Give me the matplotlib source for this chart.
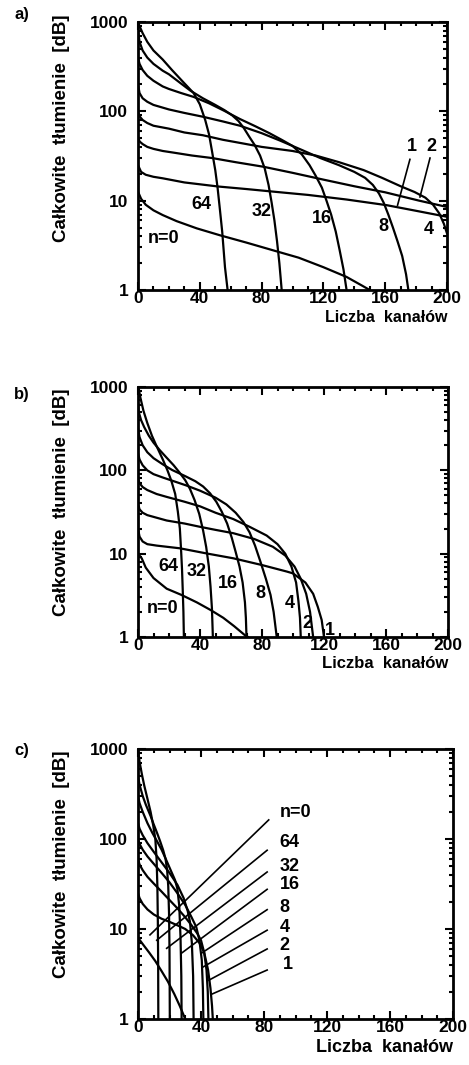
import matplotlib
matplotlib.use("Agg")
import matplotlib.pyplot as plt
from matplotlib.ticker import FixedLocator, NullFormatter, MultipleLocator

FONT = ["Liberation Sans Narrow", "Liberation Sans", "DejaVu Sans"]
plt.rcParams["font.family"] = FONT
plt.rcParams["font.weight"] = "bold"

# ---- axis settings shared by all three panels ----
X_TICKS = [0, 40, 80, 120, 160, 200]
X_TICK_LABELS = ["0", "40", "80", "120", "160", "200"]
Y_TICKS = [1, 10, 100, 1000]
Y_TICK_LABELS = ["1", "10", "100", "1000"]
X_LABEL = "Liczba  kanałów"
Y_LABEL = "Całkowite  tłumienie  [dB]"
PANEL_TAGS = ["a)", "b)", "c)"]

# ---- panel a: (channels, total attenuation dB) ----
A_N0 = [(0, 12.6), (2, 10.5), (5, 9.0), (10, 7.8), (16, 6.9), (25, 5.9), (38, 4.9), (53, 4.1),
        (70, 3.4), (90, 2.7), (104, 2.3), (120, 1.8), (135, 1.4), (145, 1.12), (150, 1.0)]
A_N1 = [(0, 25), (2, 21), (5, 19.5), (10, 18.5), (16, 17.8), (30, 16), (52, 14.4), (70, 13.5),
        (88, 12.6), (110, 11.6), (135, 10.3), (161, 8.9), (180, 7.7), (200, 6.6)]
A_N2 = [(0, 52), (1, 46), (3, 43), (6, 40), (10, 38), (16, 36), (23, 34.5), (35, 32), (48, 30),
        (63, 27), (81, 24), (100, 20.5), (120, 17.2), (140, 14.5), (160, 12.4), (182, 10), (200, 8.5)]
A_N4 = [(0, 100), (1, 88), (3, 80), (6, 74), (10, 69), (20, 64), (30, 58), (42, 54), (55, 48),
        (67, 44), (80, 40), (100, 36), (115, 32), (130, 27), (146, 22), (158, 18), (170, 14.5),
        (179, 12.5), (186, 10.8), (191, 9), (195, 7.2), (198, 5.5), (200, 4.3)]
A_N8 = [(0, 200), (1, 160), (3, 140), (6, 128), (10, 118), (20, 105), (30, 96), (42, 87),
        (55, 77), (66, 69), (80, 57), (92, 47), (106, 37), (118, 30), (130, 25), (140, 21),
        (147, 18), (152, 15), (156, 12), (159, 9.5), (162, 7), (165, 5), (168, 3.5), (171, 2.4),
        (173.5, 1.5), (175, 1.0)]
A_N16 = [(0, 400), (1, 340), (3, 290), (6, 250), (10, 220), (16, 190), (20, 178), (28, 160),
         (36, 145), (46, 123), (56, 101), (66, 82), (76, 68), (85, 57), (93, 48), (100, 41),
         (106, 33), (111, 25), (115, 19), (119, 14), (122, 10), (125, 7), (128, 4.5),
         (130.5, 2.8), (133, 1.7), (135, 1.0)]
A_N32 = [(0, 800), (1, 600), (3, 480), (6, 400), (10, 340), (16, 285), (20, 260), (27, 210),
         (34, 170), (42, 140), (50, 118), (56, 103), (61, 90), (65, 78), (68.5, 65), (72, 52),
         (75.5, 42), (79, 32), (82, 23), (84.5, 15), (86.5, 9.5), (88.3, 6), (90, 3.5), (91.5, 2),
         (93, 1.0)]
A_N64 = [(0, 1000), (1, 900), (3, 750), (6, 600), (10, 480), (16, 380), (22, 290), (29, 215),
         (36, 160), (40, 120), (43.5, 80), (46, 55), (48, 35), (50, 22), (51.5, 14), (53, 8),
         (54.5, 4.5), (56.3, 1.8), (58, 1.0)]

# ---- panel b ----
B_N0 = [(0, 10), (2.4, 8.8), (5, 6.8), (10, 5.1), (18.5, 3.8), (28, 3.2), (38, 2.6), (47, 2.1),
        (55, 1.7), (62, 1.35), (69, 1.05), (71, 1.0)]
B_N1 = [(0, 20), (1, 16), (3, 14), (6, 13), (12, 12.5), (27, 11.6), (45, 10), (61.5, 8.8),
        (80, 7.3), (96, 6.1), (100, 5.8), (108, 4.5), (113, 3.3), (116, 2.3), (118.5, 1.6),
        (120, 1.0)]
B_N2 = [(0, 40), (1, 34), (3, 31), (6, 29), (12, 27), (18.5, 25), (30, 23), (40, 21), (50, 19.3),
        (61.5, 17.6), (75, 15), (87, 12.1), (95, 9.5), (101, 7), (105, 5), (108.5, 3.3), (111, 2),
        (113, 1.0)]
B_N4 = [(0, 80), (1, 70), (3, 63), (6, 58), (12, 52), (18.5, 48), (30, 42), (40, 37), (50, 31),
        (61.5, 26), (72, 21), (83, 16.5), (90, 13), (95, 10), (99, 7), (102, 4.5), (103.5, 2.7),
        (104.5, 1.7), (105, 1.0)]
B_N8 = [(0, 160), (1, 135), (3, 115), (6, 100), (10, 90), (16, 82), (25, 72), (31, 66), (40, 57),
        (50, 47), (57, 39), (63, 31), (68, 24), (72, 18), (75.5, 12.5), (79, 8), (82.5, 5),
        (85.5, 3.2), (87.5, 2), (89.5, 1.0)]
B_N16 = [(0, 320), (1, 250), (3, 200), (6, 165), (10, 140), (16, 118), (22, 101), (30, 86),
         (37, 74), (42, 64), (46.5, 53), (50.5, 42), (54, 32), (57.5, 23), (60.5, 15.5),
         (63, 10.5), (65.5, 7), (67.5, 4.5), (69, 2.6), (69.6, 1.7), (70, 1.0)]
B_N32 = [(0, 640), (0.5, 500), (2, 400), (4, 330), (7, 260), (10, 215), (14, 175), (18, 145),
         (23, 115), (27, 93), (30.5, 76), (33.5, 60), (36.5, 44), (39.5, 30), (42, 19),
         (44, 12), (45.7, 7), (46.8, 4), (47.7, 2.2), (48.3, 1.0)]
B_N64 = [(0.3, 1000), (1.5, 750), (3.5, 520), (6, 370), (9, 260), (12, 195), (16, 135), (19, 100),
         (21.5, 75), (24, 52), (25.7, 32), (27, 20), (27.8, 11), (28.4, 6.5), (28.9, 3.5),
         (29.3, 2), (29.6, 1.0)]

# ---- panel c ----
C_N0 = [(0, 8), (3, 6.8), (7, 5.5), (11, 4.4), (15, 3.4), (19, 2.6), (23, 1.9), (26.5, 1.4),
        (30, 1.0)]
C_N1 = [(0, 25), (1, 22), (3, 19), (6, 16.5), (10, 14.5), (15, 13), (20, 12), (25, 11), (30, 10),
        (35, 8.5), (39, 7), (42, 5.5), (44.5, 3.5), (46, 2.2), (47, 1.4), (47.5, 1.0)]
C_N2 = [(0, 60), (1, 52), (3, 45), (6, 38), (10, 32), (15, 26), (20, 21), (25, 17), (30, 13.5),
        (34, 11), (37.5, 9), (40, 7.5), (42, 5.5), (43.5, 3.5), (44.3, 2), (44.7, 1.0)]
C_N4 = [(0, 100), (1, 88), (3, 76), (6, 64), (10, 53), (15, 42), (20, 33), (25, 25), (30, 18.5),
        (34, 13.5), (37, 10.5), (39, 7.5), (40.5, 4.5), (41.2, 2.2), (41.5, 1.0)]
C_N8 = [(0, 150), (1, 130), (3, 110), (6, 90), (10, 72), (15, 55), (20, 42), (25, 31), (29, 22),
        (31.5, 16), (33, 12), (34.2, 7), (35, 3), (35.3, 1.0)]
C_N16 = [(0, 300), (1, 250), (3, 200), (6, 150), (9, 118), (12, 95), (15, 76), (18, 58),
         (21, 44), (23.5, 35), (25, 28), (26.2, 18), (27, 8), (27.5, 3), (27.7, 1.0)]
C_N32 = [(0, 500), (1, 400), (3, 300), (5, 240), (8, 180), (10, 145), (12, 118), (14, 95),
         (16, 75), (17.5, 60), (18.5, 45), (19.2, 30), (19.7, 15), (20, 6), (20.2, 1.0)]
C_N64 = [(0, 1000), (1, 720), (2.5, 520), (4, 390), (6, 280), (8, 200), (9.7, 140), (11, 100),
         (11.8, 60), (12.3, 30), (12.6, 12), (12.8, 4), (12.9, 1.0)]

# ---- curve labels: (text, x, y) and leader lines ((x_from, y_from), (x_to, y_to)) ----
A_LABELS = [("64", 41, 9.0), ("32", 80, 7.5), ("16", 119, 6.3), ("8", 159, 5.1),
            ("4", 188, 4.7), ("n=0", 16.5, 3.8), ("1", 177, 40), ("2", 190, 40)]
A_LEADERS = [((176, 29), (168, 8.9)), ((189, 30), (182.5, 11))]
B_LABELS = [("64", 19.5, 7.0), ("32", 38, 6.1), ("16", 58, 4.4), ("8", 79, 3.35),
            ("4", 98, 2.5), ("2", 109, 1.46), ("1", 124, 1.21), ("n=0", 16, 2.2)]
C_LABELS = [("n=0", 90, 195), ("64", 90, 91), ("32", 90, 50), ("16", 90, 31),
            ("8", 90, 17.5), ("4", 90, 10.5), ("2", 90, 6.6), ("1", 92, 4.0)]
C_LEADERS = [((83, 163), (7.6, 8.6)), ((82, 75), (11.9, 7.5)), ((82, 43), (18.2, 6.1)),
             ((82, 27.6), (27.7, 5.4)), ((82, 16.4), (40.4, 5.4)), ((82, 9.7), (41.5, 3.8)),
             ((82, 6.0), (45, 2.7)), ((82, 3.5), (47.2, 1.9))]

PANELS = [
    dict(curves=[A_N0, A_N1, A_N2, A_N4, A_N8, A_N16, A_N32, A_N64], labels=A_LABELS,
         label_ha="center", leaders=A_LEADERS, box=(138, 22, 447, 290),
         tag_y=14, ylabel_top=15, xlabel_y=318, xlabel_size=11.5),
    dict(curves=[B_N0, B_N1, B_N2, B_N4, B_N8, B_N16, B_N32, B_N64], labels=B_LABELS,
         label_ha="center", leaders=[], box=(138, 387, 448, 637),
         tag_y=394, ylabel_top=388, xlabel_y=664, xlabel_size=12),
    dict(curves=[C_N0, C_N1, C_N2, C_N4, C_N8, C_N16, C_N32, C_N64], labels=C_LABELS,
         label_ha="left", leaders=C_LEADERS, box=(138, 749, 453, 1019),
         tag_y=750, ylabel_top=750, xlabel_y=1048, xlabel_size=13),
]

W, H = 469, 1065
fig = plt.figure(figsize=(W / 100, H / 100), dpi=100)
fig.patch.set_facecolor("white")

for tag, p in zip(PANEL_TAGS, PANELS):
    x0, y0, x1, y1 = p["box"]
    ax = fig.add_axes([x0 / W, 1 - y1 / H, (x1 - x0) / W, (y1 - y0) / H])
    ax.set_yscale("log")
    ax.set_xlim(0, 200)
    ax.set_ylim(1, 1000)
    for pts in p["curves"]:
        xs = [q[0] for q in pts]
        ys = [q[1] for q in pts]
        ax.plot(xs, ys, color="black", lw=1.6, solid_capstyle="round", solid_joinstyle="round")
    for txt, tx, ty in p["labels"]:
        ax.text(tx, ty, txt, fontsize=13, fontweight="bold", ha=p["label_ha"], va="center")
    for (sx, sy), (ex, ey) in p["leaders"]:
        ax.plot([sx, ex], [sy, ey], color="black", lw=1.2)

    ax.xaxis.set_major_locator(FixedLocator(X_TICKS))
    ax.set_xticklabels(X_TICK_LABELS)
    ax.xaxis.set_minor_locator(MultipleLocator(10))
    ax.yaxis.set_major_locator(FixedLocator(Y_TICKS))
    ax.set_yticklabels(Y_TICK_LABELS)
    ax.yaxis.set_minor_locator(FixedLocator([m * 10 ** k for k in range(3) for m in range(2, 10)]))
    ax.yaxis.set_minor_formatter(NullFormatter())
    ax.tick_params(which="both", direction="in", top=True, right=True, width=1.5)
    ax.tick_params(which="major", length=6, labelsize=12.5)
    ax.tick_params(axis="x", which="major", pad=0.5)
    ax.tick_params(axis="y", which="major", pad=7)
    ax.tick_params(which="minor", length=3)
    for lab in ax.get_xticklabels() + ax.get_yticklabels():
        lab.set_fontweight("bold")
    for s in ax.spines.values():
        s.set_linewidth(2)

    fig.text(62 / W, 1 - p["ylabel_top"] / H, Y_LABEL, rotation=90, ha="center", va="top",
             fontsize=13.5, fontweight="bold")
    fig.text(x1 / W, 1 - p["xlabel_y"] / H, X_LABEL, ha="right", va="center",
             fontsize=p["xlabel_size"], fontweight="bold")
    fig.text(14 / W, 1 - p["tag_y"] / H, tag, fontsize=12, fontweight="bold", ha="left", va="center")

fig.savefig("out.png", dpi=100, facecolor="white")
